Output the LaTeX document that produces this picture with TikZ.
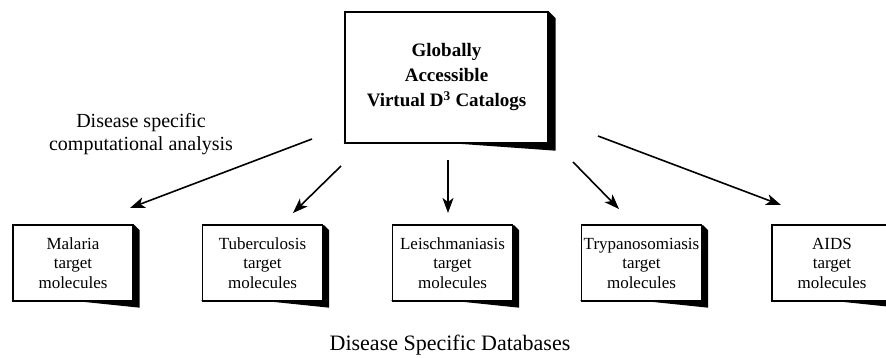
\documentclass[tikz,border=0pt]{standalone}
\usepackage{fontspec}
\setmainfont{Liberation Serif}
\usetikzlibrary{arrows.meta}
\begin{document}
\begin{tikzpicture}[x=1pt,y=-1pt,
  arr/.style={line width=1.6pt,-{Stealth[length=15pt,width=11pt,inset=4pt]}},
  dbox/.style={draw,line width=1.4pt,fill=white,minimum width=120pt,minimum height=76pt,align=center,inner sep=0pt,font=\fontsize{17}{19.5}\selectfont},
  bigbox/.style={draw,line width=1.4pt,fill=white,minimum width=203pt,minimum height=131pt,align=center,inner sep=0pt,font=\bfseries\fontsize{19}{25}\selectfont},
  lbl/.style={align=center,inner sep=0pt}
]
\useasboundingbox (0,0) rectangle (886,358);
\newcommand{\shadowbox}[2]{%
  \fill ([xshift=-0.7pt,yshift=0.7pt]#1.south west) -- ++(#2,-#2) -- ([xshift=#2 pt,yshift=-#2 pt]#1.south east) -- ([xshift=#2 pt,yshift=-#2 pt]#1.north east) -- ([xshift=0.7pt,yshift=-0.7pt]#1.north east) -- cycle;}
% top box
\node[bigbox] (top) at (446.5,77.5) {Globally\\Accessible\\Virtual D\textsuperscript{3} Catalogs};
\shadowbox{top}{7}
\node[bigbox] at (top) {Globally\\Accessible\\Virtual D\textsuperscript{3} Catalogs};
% bottom boxes
\foreach \n/\x/\t in {mal/73/Malaria,tub/262.5/Tuberculosis,lei/452.5/Leischmaniasis,try/641.5/Trypanosomiasis,aid/832/AIDS}{
  \node[dbox] (\n) at (\x,263) {\t\\target\\molecules};
  \shadowbox{\n}{6}
  \node[dbox] at (\n) {\t\\target\\molecules};
}
% labels
\node[lbl,font=\fontsize{20}{22.5}\selectfont] (ana) at (141,134) {Disease specific\\computational analysis};
\node[lbl,font=\fontsize{22}{26}\selectfont] (dbs) at (450,345) {Disease Specific Databases};
% arrow coordinates
\coordinate (s1) at (312,139); \coordinate (e1) at (130,208);
\coordinate (s2) at (341,166); \coordinate (e2) at (293,213);
\coordinate (s3) at (448,160); \coordinate (e3) at (448,213);
\coordinate (s4) at (573,162); \coordinate (e4) at (619,209);
\coordinate (s5) at (598,136); \coordinate (e5) at (781,205);
\foreach \i in {1,...,5}{\draw[arr] (s\i) -- (e\i);}
\end{tikzpicture}
\end{document}
